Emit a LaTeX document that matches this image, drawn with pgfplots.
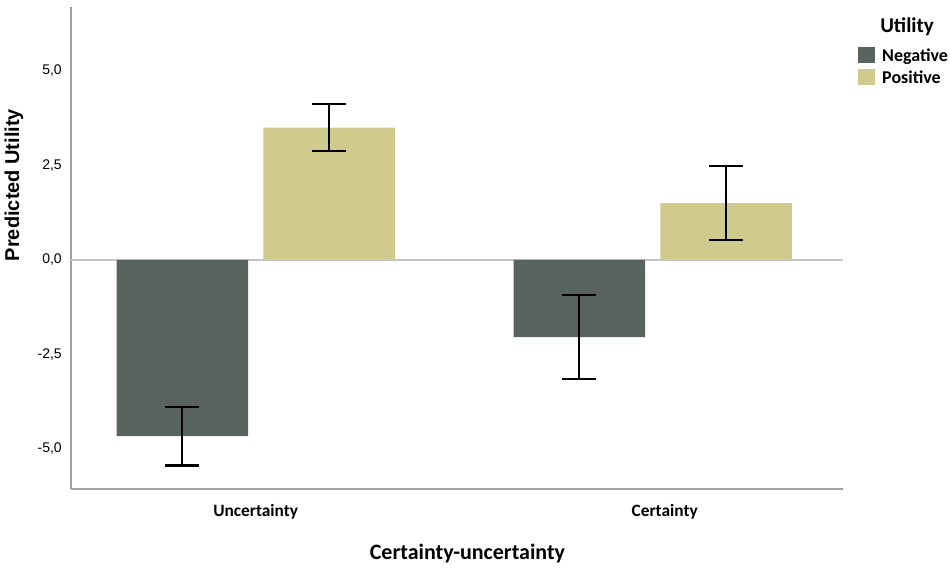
\documentclass[border=0pt]{standalone}
\usepackage{pgfplots}
\pgfplotsset{compat=1.18}
\usepackage{fontspec}
\setmainfont{Liberation Sans}
\newfontfamily\carlito{Carlito}
\definecolor{negc}{HTML}{5A645E}
\definecolor{posc}{HTML}{D0CA8D}
\definecolor{axgray}{HTML}{A0A0A0}
\definecolor{zerogray}{HTML}{C4C4C4}
\begin{document}
\begin{tikzpicture}
\useasboundingbox (0,0) rectangle (712.5pt,426.75pt);
\begin{axis}[
  at={(53.25pt,60pt)}, anchor=south west,
  scale only axis, width=579pt, height=361.5pt,
  xmin=-0.4651, xmax=1.479,
  ymin=-6.06, ymax=6.69,
  axis x line*=bottom, axis y line*=left,
  axis line style={-, draw=axgray, line width=1.1pt},
  major tick length=0pt,
  xtick={0,1.03},
  xticklabels={Uncertainty,Certainty},
  xticklabel style={anchor=base, yshift=-20.25pt, inner sep=0pt, font=\carlito\bfseries\fontsize{13}{15}\selectfont},
  ytick={-5,-2.5,0,2.5,5},
  yticklabels={{-5,0},{-2,5},{0,0},{2,5},{5,0}},
  yticklabel style={anchor=east, inner sep=0pt, xshift=-6.75pt, font=\fontsize{10.5}{12}\selectfont},
  extra y ticks={0}, extra y tick labels={},
  extra y tick style={grid=major, major grid style={draw=zerogray, line width=1.1pt}},
  ybar, bar width=98.6pt,
  error bars/y dir=both, error bars/y explicit,
  error bars/error bar style={black, line width=1.6pt},
  error bars/error mark options={black, line width=1.6pt, mark size=12.75pt, rotate=90},
  legend style={at={(axis description cs:1.0194,0.917)}, anchor=north west, draw=none, fill=none,
    inner sep=0pt, row sep=4.4pt, font=\carlito\bfseries\fontsize{13.5}{16}\selectfont,
    nodes={inner sep=0pt}},
  legend cell align=left,
  legend image code/.code={\fill[#1] (0pt,-5.5pt) rectangle (12.75pt,6.5pt); \path (18pt,0pt);},
]
\addplot[fill=negc, draw=none, bar shift=-55.05pt] coordinates {
  (0,-4.66) +- (0,0.78)
  (1,-2.04) +- (0,1.12)
};
\addplot[fill=posc, draw=none, bar shift=55.05pt] coordinates {
  (0,3.50) +- (0,0.625)
  (1,1.50) +- (0,0.98)
};
\legend{Negative,Positive}
\end{axis}
\node[rotate=90, anchor=base, font=\bfseries\fontsize{15}{18}\selectfont] at (14.25pt,288pt) {Predicted Utility};
\node[anchor=base, font=\carlito\bfseries\fontsize{16.5}{20}\selectfont] at (350.6pt,7.5pt) {Certainty-uncertainty};
\node[anchor=base west, inner sep=0pt, font=\carlito\bfseries\fontsize{15.75}{19}\selectfont] at (660pt,402pt) {Utility};
\end{tikzpicture}
\end{document}
